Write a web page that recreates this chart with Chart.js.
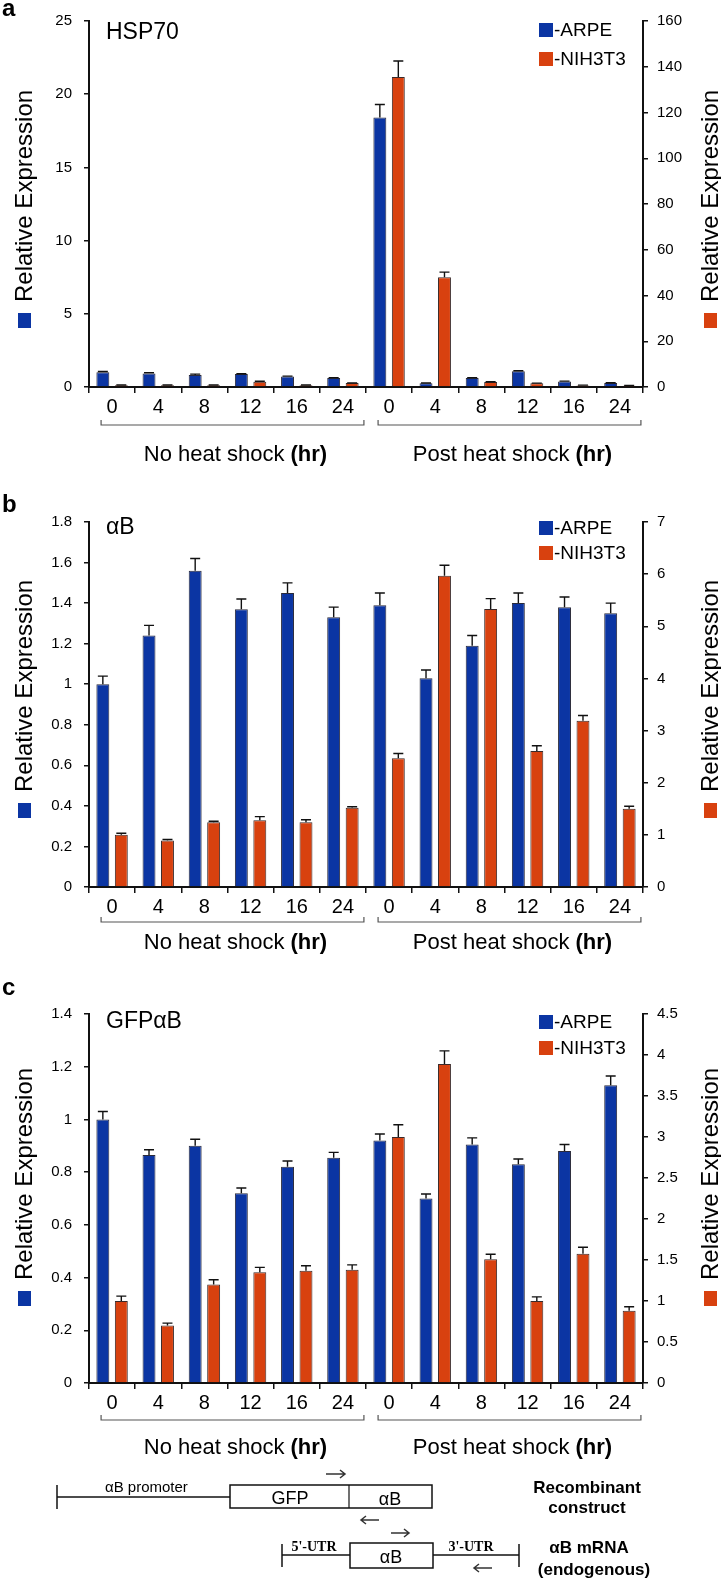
<!DOCTYPE html>
<html>
<head>
<meta charset="utf-8">
<script src="https://cdn.jsdelivr.net/npm/chart.js@4.4.1/dist/chart.umd.min.js"></script>
<style>
  body { margin: 0; background: #fff; }
  #wrap { position: relative; width: 721px; height: 1578px; overflow: hidden; }
  canvas { position: absolute; left: 0; }
  svg { position: absolute; left: 0; top: 0; }
</style>
</head>
<body>
<div id="wrap">
  <canvas id="chartA" width="721" height="480" style="top:0px"></canvas>
  <canvas id="chartB" width="721" height="490" style="top:480px"></canvas>
  <canvas id="chartC" width="721" height="490" style="top:970px"></canvas>
  <svg width="721" height="1578" font-family="'Liberation Sans', Arial, sans-serif">
    <!-- recombinant construct -->
    <line x1="57" y1="1497" x2="230" y2="1497" stroke="#111" stroke-width="1.5"/>
    <line x1="57" y1="1485" x2="57" y2="1509" stroke="#111" stroke-width="1.5"/>
    <rect x="230" y="1485" width="202" height="23" fill="none" stroke="#111" stroke-width="1.5"/>
    <line x1="349" y1="1485" x2="349" y2="1508" stroke="#111" stroke-width="1.2"/>
    <text x="105" y="1492" font-size="15">αB promoter</text>
    <text x="290" y="1504" font-size="18" text-anchor="middle">GFP</text>
    <text x="390" y="1505" font-size="18" text-anchor="middle">αB</text>
    <g stroke="#333" stroke-width="1.5" fill="none">
      <path d="M326 1474 H345 M340 1470 L345 1474 L340 1478"/>
      <path d="M379 1520 H361 M366 1516 L361 1520 L366 1524"/>
      <path d="M391 1533 H409 M404 1529 L409 1533 L404 1537"/>
      <path d="M492 1568 H474 M479 1564 L474 1568 L479 1572"/>
    </g>
    <text x="587" y="1493" font-size="17" font-weight="bold" text-anchor="middle">Recombinant</text>
    <text x="587" y="1513" font-size="17" font-weight="bold" text-anchor="middle">construct</text>
    <!-- endogenous mRNA -->
    <line x1="282" y1="1555" x2="350" y2="1555" stroke="#111" stroke-width="1.5"/>
    <line x1="433" y1="1555" x2="519" y2="1555" stroke="#111" stroke-width="1.5"/>
    <line x1="282" y1="1544" x2="282" y2="1567" stroke="#111" stroke-width="1.5"/>
    <line x1="519" y1="1544" x2="519" y2="1567" stroke="#111" stroke-width="1.5"/>
    <rect x="350" y="1543" width="83" height="25" fill="none" stroke="#111" stroke-width="1.5"/>
    <text x="314" y="1551" font-size="14" font-weight="bold" font-family="'Liberation Serif', serif" text-anchor="middle">5'-UTR</text>
    <text x="471" y="1551" font-size="14" font-weight="bold" font-family="'Liberation Serif', serif" text-anchor="middle">3'-UTR</text>
    <text x="391" y="1563" font-size="18" text-anchor="middle">αB</text>
    <text x="589" y="1553" font-size="17" font-weight="bold" text-anchor="middle">αB mRNA</text>
    <text x="594" y="1575" font-size="17" font-weight="bold" text-anchor="middle">(endogenous)</text>
  </svg>
</div>
<script>
// categories (hours)
const hours = ['0', '4', '8', '12', '16', '24', '0', '4', '8', '12', '16', '24'];
const groupNames = ['No heat shock', 'Post heat shock'];

// panel a - HSP70
const hspArpe = [1.0, 0.92, 0.82, 0.88, 0.72, 0.62, 18.4, 0.25, 0.62, 1.07, 0.38, 0.27];
const hspArpeErr = [0.06, 0.05, 0.06, 0.02, 0.02, 0.02, 0.9, 0.02, 0.02, 0.04, 0.02, 0.02];
const hspNih = [0.8, 0.8, 0.8, 2.3, 0.8, 1.7, 135.5, 48, 2.2, 1.6, 0.7, 0.6];
const hspNihErr = [0.1, 0.1, 0.1, 0.2, 0.1, 0.1, 7, 2.2, 0.1, 0.1, 0.1, 0.1];

// panel b - alphaB
const abArpe = [1.0, 1.24, 1.56, 1.37, 1.45, 1.33, 1.39, 1.03, 1.19, 1.40, 1.38, 1.35];
const abArpeErr = [0.04, 0.05, 0.06, 0.05, 0.05, 0.05, 0.06, 0.04, 0.05, 0.05, 0.05, 0.05];
const abNih = [1.0, 0.89, 1.24, 1.28, 1.24, 1.52, 2.47, 5.97, 5.33, 2.61, 3.19, 1.5];
const abNihErr = [0.03, 0.02, 0.02, 0.07, 0.05, 0.02, 0.09, 0.2, 0.2, 0.1, 0.1, 0.05];

// panel c - GFPalphaB
const gfpArpe = [1.0, 0.865, 0.90, 0.72, 0.82, 0.855, 0.92, 0.70, 0.905, 0.83, 0.88, 1.13];
const gfpArpeErr = [0.03, 0.02, 0.025, 0.02, 0.022, 0.02, 0.025, 0.017, 0.025, 0.02, 0.025, 0.035];
const gfpNih = [1.0, 0.7, 1.2, 1.35, 1.37, 1.38, 3.0, 3.89, 1.51, 1.0, 1.575, 0.88];
const gfpNihErr = [0.06, 0.03, 0.06, 0.06, 0.06, 0.06, 0.15, 0.16, 0.06, 0.05, 0.08, 0.05];

// ticks [min, max, step]
const hspLeftTicks = [0, 25, 5];
const hspRightTicks = [0, 160, 20];
const abLeftTicks = [0, 1.8, 0.2];
const abRightTicks = [0, 7, 1];
const gfpLeftTicks = [0, 1.4, 0.2];
const gfpRightTicks = [0, 4.5, 0.5];

const FONT = "'Liberation Sans', Arial, sans-serif";
const BLUE = '#0b35a3';
const RED = '#d8410f';

// error bars, legend, titles, brackets
const decorPlugin = {
  id: 'decor',
  afterDatasetsDraw(chart) {
    const ctx = chart.ctx;
    ctx.save();
    ctx.strokeStyle = '#111';
    ctx.lineWidth = 1.4;
    chart.data.datasets.forEach((ds, i) => {
      const meta = chart.getDatasetMeta(i);
      const sc = chart.scales[ds.yAxisID];
      meta.data.forEach((bar, j) => {
        const top = sc.getPixelForValue(ds.data[j] + ds.err[j]);
        ctx.beginPath();
        ctx.moveTo(bar.x, bar.y);
        ctx.lineTo(bar.x, top);
        ctx.moveTo(bar.x - 5, top);
        ctx.lineTo(bar.x + 5, top);
        ctx.stroke();
      });
    });
    ctx.restore();
  },
  afterDraw(chart) {
    const ctx = chart.ctx;
    const p = chart.options.plugins.decor;
    const x = chart.scales.x;
    ctx.save();
    ctx.fillStyle = '#000';
    // panel letter
    ctx.font = 'bold 24px ' + FONT;
    ctx.textBaseline = 'alphabetic';
    ctx.fillText(p.letter, 2, p.letterY);
    // title
    ctx.font = '23px ' + FONT;
    ctx.textBaseline = 'middle';
    ctx.fillText(p.title, 106, p.titleY);
    // legend
    ctx.font = '19px ' + FONT;
    [['-ARPE', BLUE], ['-NIH3T3', RED]].forEach((it, k) => {
      const y = p.legendY + k * p.legendGap;
      ctx.fillStyle = it[1];
      ctx.fillRect(539, y - 7, 14, 14);
      ctx.fillStyle = '#000';
      ctx.fillText(it[0], 554, y + 1);
    });
    // axis titles with coloured squares
    ctx.font = '24px ' + FONT;
    [[24, BLUE], [710, RED]].forEach(it => {
      ctx.fillStyle = it[1];
      ctx.fillRect(it[0] - 6, p.axisTitleY + 11, 13, 15);
      ctx.fillStyle = '#000';
      ctx.save();
      ctx.translate(it[0] + 1, p.axisTitleY);
      ctx.rotate(-Math.PI / 2);
      ctx.textAlign = 'left';
      ctx.textBaseline = 'middle';
      ctx.fillText('Relative Expression', 0, 0);
      ctx.restore();
    });
    // brackets and group labels
    [[0, 5], [6, 11]].forEach((g, k) => {
      const x1 = x.getPixelForTick(g[0]) - 11;
      const x2 = x.getPixelForTick(g[1]) + 21;
      ctx.strokeStyle = '#555';
      ctx.lineWidth = 1.2;
      ctx.beginPath();
      ctx.moveTo(x1, p.bracketY - 5);
      ctx.lineTo(x1, p.bracketY);
      ctx.lineTo(x2, p.bracketY);
      ctx.lineTo(x2, p.bracketY - 5);
      ctx.stroke();
      const name = groupNames[k] + ' ';
      ctx.font = '22px ' + FONT;
      const w1 = ctx.measureText(name).width;
      ctx.font = 'bold 22px ' + FONT;
      const w2 = ctx.measureText('(hr)').width;
      const start = (x1 + x2) / 2 + 3 - (w1 + w2) / 2;
      ctx.textAlign = 'left';
      ctx.textBaseline = 'middle';
      ctx.font = '22px ' + FONT;
      ctx.fillStyle = '#000';
      ctx.fillText(name, start, p.groupY);
      ctx.font = 'bold 22px ' + FONT;
      ctx.fillText('(hr)', start + w1, p.groupY);
    });
    ctx.restore();
  }
};

function numLabel(v) {
  return String(+(+v).toFixed(2));
}

function makePanel(id, arpe, arpeErr, nih, nihErr, leftT, rightT, H, top, bottom, decor) {
  const axisCommon = {
    grid: { drawOnChartArea: false, drawTicks: true, tickLength: 5, color: '#111', lineWidth: 1.5 },
    border: { display: true, color: '#111', width: 2 },
  };
  return new Chart(document.getElementById(id), {
    type: 'bar',
    data: {
      labels: hours,
      datasets: [
        { label: 'ARPE', data: arpe, err: arpeErr, yAxisID: 'y', backgroundColor: BLUE,
          borderColor: '#2a2a3a', borderWidth: 1, categoryPercentage: 0.8, barPercentage: 0.7 },
        { label: 'NIH3T3', data: nih, err: nihErr, yAxisID: 'y1', backgroundColor: RED,
          borderColor: '#3a2a2a', borderWidth: 1, categoryPercentage: 0.8, barPercentage: 0.7 }
      ]
    },
    options: {
      responsive: false,
      animation: false,
      devicePixelRatio: 1,
      layout: { padding: { top: top, left: 0, right: 0, bottom: 0 } },
      plugins: { legend: { display: false }, tooltip: { enabled: false }, decor: decor },
      scales: {
        x: {
          offset: true,
          grid: { offset: true, drawOnChartArea: false, drawTicks: true, tickLength: 6, color: '#111', lineWidth: 1.5 },
          border: { display: true, color: '#111', width: 2 },
          ticks: { color: '#000', font: { size: 20, family: FONT }, padding: 2, maxRotation: 0, autoSkip: false },
          afterFit: s => { s.height = H - bottom; }
        },
        y: Object.assign({}, axisCommon, {
          position: 'left', min: leftT[0], max: leftT[1],
          ticks: { stepSize: leftT[2], color: '#000', font: { size: 15, family: FONT }, padding: 12, callback: numLabel },
          afterFit: s => { s.width = 89; }
        }),
        y1: Object.assign({}, axisCommon, {
          position: 'right', min: rightT[0], max: rightT[1],
          ticks: { stepSize: rightT[2], color: '#000', font: { size: 15, family: FONT }, padding: 9, callback: numLabel },
          afterFit: s => { s.width = 78; }
        })
      }
    },
    plugins: [decorPlugin]
  });
}

makePanel('chartA', hspArpe, hspArpeErr, hspNih, hspNihErr, hspLeftTicks, hspRightTicks, 480, 21, 387,
  { letter: 'a', letterY: 16, title: 'HSP70', titleY: 33, legendY: 30, legendGap: 29,
    axisTitleY: 302, bracketY: 425, groupY: 455 });
makePanel('chartB', abArpe, abArpeErr, abNih, abNihErr, abLeftTicks, abRightTicks, 490, 42, 407,
  { letter: 'b', letterY: 32, title: 'αB', titleY: 48, legendY: 48, legendGap: 25,
    axisTitleY: 312, bracketY: 442, groupY: 463 });
makePanel('chartC', gfpArpe, gfpArpeErr, gfpNih, gfpNihErr, gfpLeftTicks, gfpRightTicks, 490, 44, 413,
  { letter: 'c', letterY: 25, title: 'GFPαB', titleY: 52, legendY: 52, legendGap: 26,
    axisTitleY: 310, bracketY: 450, groupY: 478 });
</script>
</body>
</html>
